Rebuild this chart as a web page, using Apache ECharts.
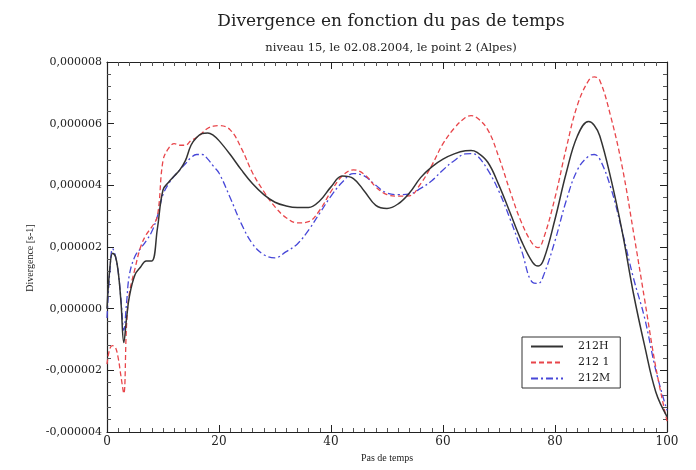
<!DOCTYPE html>
<html><head><meta charset="utf-8">
<script src="https://cdn.jsdelivr.net/npm/echarts@6/dist/echarts.min.js"></script>
<style>html,body{margin:0;padding:0;background:#fff}#c{width:696px;height:470px}</style>
</head><body><div id="c"></div>
<script>
var steps = [0,0.5,1,1.5,2,2.5,3,3.5,4,5,6,7,8,9,10,11,12,13,14,15,16,17,18,19,20,22,24,26,28,30,32,34,36,38,40,42,44,46,48,50,52,54,56,58,60,62,64,65,66,68,70,72,74,76,77,78,80,82,84,86,87,88,90,92,94,96,98,100];
var s212H = [0.0e-6,1.3e-6,1.8e-6,1.7e-6,1.2e-6,0.2e-6,-1.1e-6,-0.3e-6,0.4e-6,1.1e-6,1.35e-6,1.55e-6,1.55e-6,2.6e-6,3.85e-6,4.1e-6,4.3e-6,4.5e-6,4.8e-6,5.3e-6,5.55e-6,5.68e-6,5.7e-6,5.62e-6,5.45e-6,5.0e-6,4.5e-6,4.05e-6,3.7e-6,3.45e-6,3.33e-6,3.28e-6,3.28e-6,3.5e-6,3.95e-6,4.3e-6,4.22e-6,3.8e-6,3.35e-6,3.25e-6,3.4e-6,3.75e-6,4.25e-6,4.6e-6,4.85e-6,5.02e-6,5.12e-6,5.13e-6,5.08e-6,4.75e-6,4.0e-6,3.1e-6,2.2e-6,1.5e-6,1.38e-6,1.6e-6,2.9e-6,4.4e-6,5.6e-6,6.07e-6,5.95e-6,5.6e-6,4.2e-6,2.5e-6,0.5e-6,-1.2e-6,-2.7e-6,-3.5e-6];
var s2121 = [-1.8e-6,-1.3e-6,-1.2e-6,-1.25e-6,-1.6e-6,-2.2e-6,-2.75e-6,-0.5e-6,0.5e-6,1.3e-6,2.0e-6,2.4e-6,2.65e-6,3.0e-6,4.8e-6,5.2e-6,5.35e-6,5.3e-6,5.3e-6,5.45e-6,5.55e-6,5.7e-6,5.85e-6,5.92e-6,5.94e-6,5.8e-6,5.2e-6,4.4e-6,3.8e-6,3.3e-6,2.95e-6,2.78e-6,2.82e-6,3.2e-6,3.8e-6,4.3e-6,4.5e-6,4.35e-6,3.95e-6,3.7e-6,3.65e-6,3.66e-6,4.05e-6,4.65e-6,5.35e-6,5.85e-6,6.2e-6,6.26e-6,6.2e-6,5.8e-6,4.9e-6,3.8e-6,2.8e-6,2.1e-6,1.98e-6,2.3e-6,3.6e-6,5.2e-6,6.6e-6,7.4e-6,7.52e-6,7.4e-6,6.2e-6,4.6e-6,2.5e-6,0.3e-6,-1.9e-6,-3.65e-6];
var s212M = [-0.3e-6,1.2e-6,1.95e-6,1.7e-6,1.2e-6,0.3e-6,-0.7e-6,0.2e-6,1.1e-6,1.7e-6,1.95e-6,2.2e-6,2.5e-6,3.0e-6,3.7e-6,4.05e-6,4.3e-6,4.5e-6,4.7e-6,4.9e-6,5.0e-6,5.0e-6,4.85e-6,4.62e-6,4.4e-6,3.6e-6,2.75e-6,2.1e-6,1.75e-6,1.65e-6,1.85e-6,2.1e-6,2.55e-6,3.1e-6,3.65e-6,4.1e-6,4.38e-6,4.3e-6,4.0e-6,3.75e-6,3.7e-6,3.72e-6,3.9e-6,4.15e-6,4.5e-6,4.8e-6,5.02e-6,5.03e-6,4.98e-6,4.5e-6,3.8e-6,2.9e-6,1.9e-6,0.85e-6,0.82e-6,1.1e-6,2.2e-6,3.5e-6,4.5e-6,4.95e-6,5.0e-6,4.85e-6,3.9e-6,2.5e-6,1.0e-6,-0.3e-6,-2.0e-6,-3.3e-6];
var seriesNames = ['212H','212 1','212M'];
var yTicks = ['-0,000004','-0,000002','0,000000','0,000002','0,000004','0,000006','0,000008'];

function pairs(v){ return steps.map(function(t,i){ return [t, v[i]]; }); }
var serif = '"Liberation Serif","DejaVu Serif",serif';
var wserif = '"DejaVu Serif",serif';
var chart = echarts.init(document.getElementById('c'), null, {renderer:'canvas'});
function ax(extra, minorSplit){
  return Object.assign({
    axisLine:{show:true, onZero:false, lineStyle:{color:'#222', width:1.2}},
    axisTick:{show:true, inside:true, length:7, lineStyle:{color:'#222'}},
    minorTick:{show:true, splitNumber:minorSplit, length:4, lineStyle:{color:'#555'}},
    splitLine:{show:false}
  }, extra);
}
chart.setOption({
  animation:false,
  backgroundColor:'#fff',
  title:[
    {text:'Divergence en fonction du pas de temps', left:386, top:8, textAlign:'center',
     textStyle:{fontFamily:wserif, fontSize:17, fontWeight:'normal', color:'#222'}},
    {text:'niveau 15, le 02.08.2004, le point 2 (Alpes)', left:386, top:37, textAlign:'center',
     textStyle:{fontFamily:wserif, fontSize:11.5, fontWeight:'normal', color:'#222'}}
  ],
  grid:{left:107, right:29, top:62, bottom:38},
  legend:{
    orient:'vertical', left:522, top:337, padding:[4,10,4,8],
    borderColor:'#333', borderWidth:1, backgroundColor:'#fff',
    itemWidth:32, itemHeight:8, itemGap:5,
    itemStyle:{opacity:0},
    textStyle:{fontFamily:wserif, fontSize:11, color:'#222', padding:[0,0,0,10]},
    data:seriesNames
  },
  xAxis:[
    ax({type:'value', min:0, max:100, interval:20, position:'bottom',
      name:'Pas de temps', nameLocation:'middle', nameGap:20,
      nameTextStyle:{fontFamily:serif, fontSize:10, color:'#222'},
      axisLabel:{fontFamily:wserif, fontSize:12, color:'#222', margin:4}}, 10),
    ax({type:'value', min:0, max:100, interval:20, position:'top',
      axisLabel:{show:false}}, 10)
  ],
  yAxis:[
    ax({type:'value', min:-4e-6, max:8e-6, interval:2e-6, position:'left',
      name:'Divergence [s-1]', nameLocation:'middle', nameGap:69, nameRotate:90,
      nameTextStyle:{fontFamily:serif, fontSize:10, color:'#222', padding:[0,22,0,0]},
      axisLabel:{fontFamily:wserif, fontSize:11, color:'#222', margin:5,
        formatter:function(v){ var i=Math.round(v/2e-6)+2; return yTicks[i]; }}}, 5),
    ax({type:'value', min:-4e-6, max:8e-6, interval:2e-6, position:'right',
      axisLabel:{show:false}}, 5)
  ],
  series:[
    {name:seriesNames[0], type:'line', symbol:'none', smooth:0.4, data:pairs(s212H),
     lineStyle:{color:'#333', width:1.5, type:'solid'}, itemStyle:{color:'#333'}, z:4},
    {name:seriesNames[1], type:'line', symbol:'none', smooth:0.4, data:pairs(s2121),
     lineStyle:{color:'#e8454a', width:1.3, type:[5,3]}, itemStyle:{color:'#e8454a'}, z:3},
    {name:seriesNames[2], type:'line', symbol:'none', smooth:0.4, data:pairs(s212M),
     lineStyle:{color:'#4747d8', width:1.3, type:[7,3,2,3]}, itemStyle:{color:'#4747d8'}, z:2}
  ]
});
</script></body></html>
